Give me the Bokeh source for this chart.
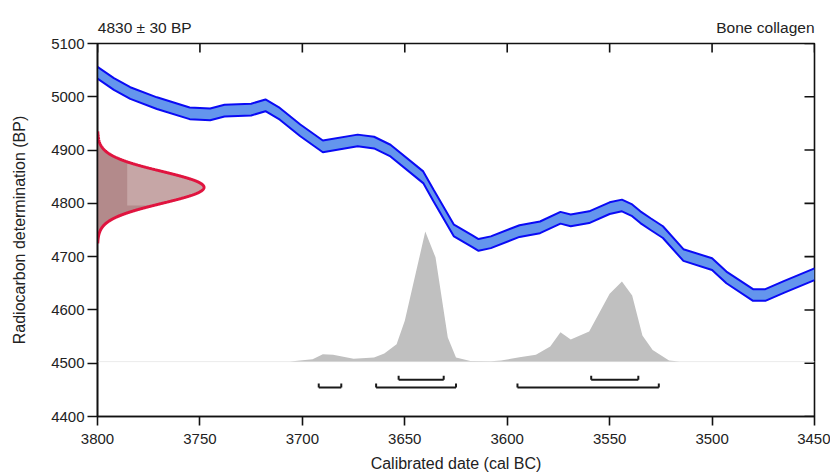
import numpy as np
from bokeh.plotting import figure
from bokeh.models import Range1d, LinearAxis, FixedTicker
from bokeh.embed import file_html
from bokeh.resources import INLINE

# ---- data ----
DATE_MEAN = 4830
DATE_SD = 30
TITLE_LEFT = "4830 ± 30 BP"
TITLE_RIGHT = "Bone collagen"

X_TICKS = [3800, 3750, 3700, 3650, 3600, 3550, 3500, 3450]
Y_TICKS = [4400, 4500, 4600, 4700, 4800, 4900, 5000, 5100]

# calibration curve (centre, BP) and its half-width
cal_years = [3800, 3792, 3784, 3771, 3755, 3745, 3738, 3725, 3718, 3711, 3701, 3690,
             3673, 3665, 3657, 3641, 3636, 3626, 3617, 3614, 3608, 3594, 3584, 3574,
             3569, 3560, 3550, 3544, 3539, 3535, 3530, 3524, 3514, 3500, 3493, 3480,
             3474, 3465, 3450]
cal_bp = [5045, 5024, 5007, 4988, 4969, 4967, 4974, 4976, 4984, 4968, 4937, 4907,
          4918, 4914, 4899, 4849, 4815, 4749, 4729, 4722, 4727, 4748, 4755, 4773,
          4768, 4774, 4791, 4796, 4787, 4774, 4761, 4746, 4703, 4686, 4661, 4628,
          4628, 4643, 4667]
cal_err = 11

# calibrated probability distribution (relative, peak = 1)
hist_years = [3800, 3706, 3695, 3690, 3685, 3675, 3665, 3660, 3654, 3650, 3644, 3640,
              3635, 3629, 3625, 3618, 3608, 3603, 3594, 3586, 3579, 3574, 3569, 3560,
              3550, 3544, 3539, 3534, 3529, 3521, 3516, 3450]
hist_prob = [0, 0, 0.018, 0.056, 0.052, 0.023, 0.031, 0.062, 0.133, 0.314, 0.725, 1.0,
             0.802, 0.185, 0.031, 0.005, 0.002, 0.008, 0.033, 0.052, 0.116, 0.226, 0.170,
             0.231, 0.522, 0.617, 0.509, 0.200, 0.090, 0.008, 0, 0]

# highest posterior density ranges
range68_start = [3653, 3559]
range68_end = [3631, 3536]
range95_start = [3692, 3664, 3595]
range95_end = [3681, 3625, 3526]

# ---- figure ----
FONT = "Liberation Sans"
TXT = "#222222"
W, H = 830, 475
BL, BR, BT, BB = 97, 16, 43, 59
X0, X1, Y0, Y1 = 3800, 3450, 4400, 5100
FRAME_W = W - BL - BR
FRAME_H = H - BT - BB
YR_PER_PX = abs(X1 - X0) / FRAME_W
BP_PER_PX = (Y1 - Y0) / FRAME_H

p = figure(width=W, height=H, output_backend="svg", toolbar_location=None,
           x_range=Range1d(X0, X1), y_range=Range1d(Y0, Y1),
           min_border_left=BL, min_border_right=BR, min_border_top=BT,
           min_border_bottom=BB, x_axis_location=None, y_axis_location=None)
p.outline_line_color = "#111111"
p.outline_line_width = 1.6
p.background_fill_color = "white"
p.border_fill_color = "white"
p.xgrid.visible = False
p.ygrid.visible = False


def style_axis(ax, ticks, tick_in, tick_out, size="15px"):
    ax.ticker = FixedTicker(ticks=ticks)
    ax.axis_line_color = "#111111"
    ax.axis_line_width = 1.6
    ax.major_tick_line_color = "#111111"
    ax.major_tick_line_width = 1.6
    ax.major_tick_in = tick_in
    ax.major_tick_out = tick_out
    ax.minor_tick_in = 0
    ax.minor_tick_out = 0
    ax.major_label_text_font = FONT
    ax.major_label_text_color = TXT
    ax.major_label_text_font_size = size
    ax.axis_label_text_font = FONT
    ax.axis_label_text_font_style = "normal"
    ax.axis_label_text_font_size = "16px"
    ax.axis_label_text_color = TXT


xb = LinearAxis(axis_label="Calibrated date (cal BC)")
style_axis(xb, X_TICKS, 0, 9)
xb.major_label_standoff = 8
xb.axis_label_standoff = 8
p.add_layout(xb, "below")

yl = LinearAxis(axis_label="Radiocarbon determination (BP)")
style_axis(yl, Y_TICKS, 0, 10)
yl.major_label_standoff = 3
yl.axis_label_standoff = 20
p.add_layout(yl, "left")

# header texts carried by a label-only top axis
left_w = 94.4   # approx. rendered text widths (px) for anchoring
right_w = 98.2
head_left_x = X0 - (left_w / 2) * YR_PER_PX
head_right_x = X1 + (right_w / 2) * YR_PER_PX
xt = LinearAxis()
style_axis(xt, [head_left_x, head_right_x], 0, 0, size="15.5px")
xt.major_label_overrides = {head_left_x: TITLE_LEFT, head_right_x: TITLE_RIGHT}
xt.axis_line_color = None
xt.major_tick_line_color = None
xt.major_label_standoff = 8
p.add_layout(xt, "above")

# inward ticks on top and right edges
tick_top = 9 * BP_PER_PX
tick_right = 10 * YR_PER_PX
p.segment(x0=X_TICKS, y0=[Y1] * len(X_TICKS), x1=X_TICKS, y1=[Y1 - tick_top] * len(X_TICKS),
          line_color="#111111", line_width=1.6)
p.segment(x0=[X1] * len(Y_TICKS), y0=Y_TICKS, x1=[X1 + tick_right] * len(Y_TICKS), y1=Y_TICKS,
          line_color="#111111", line_width=1.6)

# probability distribution
base = 4503
scale = 244
hp = np.array(hist_prob)
p.line(x=[X0, X1], y=[base, base], line_color="#EBEBEB", line_width=1)
p.varea(x=hist_years, y1=[base] * len(hist_years), y2=list(base + hp * scale),
        fill_color="#C0C0C0")

# measurement gaussian on y axis
amp = 52
gy = np.linspace(DATE_MEAN - 3.5 * DATE_SD, DATE_MEAN + 3.5 * DATE_SD, 300)
gx = X0 - amp * np.exp(-((gy - DATE_MEAN) ** 2) / (2 * DATE_SD ** 2))
p.harea(y=gy, x1=[X0] * len(gy), x2=gx, fill_color="#B38A8B")
ly = np.linspace(4796, 4874, 100)
lx = X0 - amp * np.exp(-((ly - DATE_MEAN) ** 2) / (2 * DATE_SD ** 2))
p.harea(y=ly, x1=[3785.5] * len(ly), x2=lx, fill_color="#C6A6A6")
p.line(x=gx, y=gy, line_color="#E0143F", line_width=3)

# calibration curve band
cb = np.array(cal_bp)
p.varea(x=cal_years, y1=list(cb - cal_err), y2=list(cb + cal_err), fill_color="#6495ED")
p.line(x=cal_years, y=list(cb + cal_err), line_color="#0A0AF5", line_width=2)
p.line(x=cal_years, y=list(cb - cal_err), line_color="#0A0AF5", line_width=2)

# ranges (brackets)
def brackets(starts, ends, yv, h):
    x0 = list(starts) + list(starts) + list(ends)
    x1 = list(ends) + list(starts) + list(ends)
    y0 = [yv] * len(starts) + [yv] * len(starts) + [yv] * len(ends)
    y1 = [yv] * len(starts) + [yv + h] * len(starts) + [yv + h] * len(ends)
    p.segment(x0=x0, y0=y0, x1=x1, y1=y1, line_color="#1A1A1A", line_width=2)

brackets(range68_start, range68_end, 4469, 4 * BP_PER_PX)
brackets(range95_start, range95_end, 4454.5, 4 * BP_PER_PX)

open("out.html", "w").write(file_html(p, INLINE))
